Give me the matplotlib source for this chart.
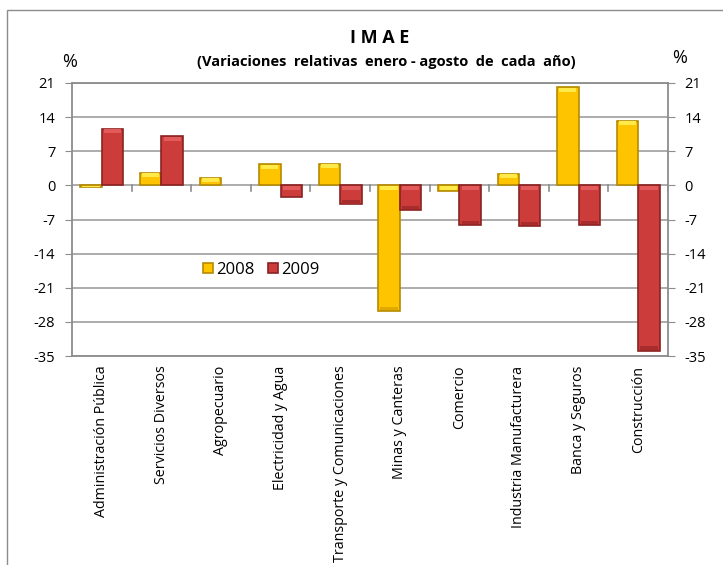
import matplotlib
matplotlib.use("Agg")
import matplotlib.pyplot as plt
import numpy as np
from matplotlib.patches import Rectangle

plt.rcParams['font.family'] = ['Open Sans', 'DejaVu Sans']

categories = ["Administración Pública", "Servicios Diversos", "Agropecuario",
              "Electricidad y Agua", "Transporte y Comunicaciones", "Minas y Canteras",
              "Comercio", "Industria Manufacturera", "Banca y Seguros", "Construcción"]
v2008 = [-0.3, 2.6, 1.6, 4.3, 4.4, -25.8, -1.2, 2.4, 20.1, 13.3]
v2009 = [11.6, 10.1, 0.0, -2.3, -3.9, -5.0, -8.1, -8.3, -8.1, -33.9]
yticks = [21, 14, 7, 0, -7, -14, -21, -28, -35]
series_names = ["2008", "2009"]

fig = plt.figure(figsize=(7.23, 5.65), dpi=100)
# outer chart border (cropped)
fig.patches.append(Rectangle((7/723, -0.1), 1.1, 1 - 9.5/565 + 0.1, transform=fig.transFigure,
                             fill=False, edgecolor='#8c8c8c', linewidth=1.0))

ax = fig.add_axes([72/723, 1 - 356/565, (668 - 72)/723, (356 - 83)/565])
x = np.arange(len(categories))
w = 0.36
c08, e08 = '#FFC400', '#B58A00'
c09, e09 = '#CC3C3A', '#8A2222'
b1 = ax.bar(x - w/2, v2008, w, color=c08, edgecolor=e08, linewidth=1.2, label=series_names[0], zorder=3)
b2 = ax.bar(x + w/2, v2009, w, color=c09, edgecolor=e09, linewidth=1.2, label=series_names[1], zorder=3)
# bevel highlight strips at the top of each bar, darker shade at the bottom
for bars, hl, dk in ((b1, '#FFEA4A', '#E0A800'), (b2, '#E25A5A', '#A82C2C')):
    for r in bars:
        h = r.get_height()
        if h == 0:
            r.set_linewidth(0)
            continue
        top = max(h, 0)
        bot = min(h, 0)
        s = min(abs(h), 1.0)
        xc = r.get_x() + r.get_width()/2
        ax.bar(xc, s*0.8, r.get_width()*0.8, bottom=top - s*0.9, color=hl, linewidth=0, zorder=4)
        if h < -3:
            ax.bar(xc, 0.7, r.get_width()*0.8, bottom=bot + 0.15, color=dk, linewidth=0, zorder=4)

ax.set_ylim(-35, 21)
ax.set_xlim(-0.5, len(categories) - 0.5)
ax.set_yticks(yticks)
ax.set_yticklabels([str(t) for t in yticks], fontsize=10.5)
ax.yaxis.grid(True, color='#a6a6a6', linewidth=1.3, zorder=0)
ax.set_axisbelow(True)
for sp in ax.spines.values():
    sp.set_color('#8c8c8c')
    sp.set_linewidth(1.3)
ax.tick_params(axis='y', length=5, color='#8c8c8c', pad=7)

# category labels at bottom, boundary ticks at the zero line
ax.set_xticks(x)
ax.set_xticklabels(categories, rotation=90, fontsize=10.3, va='top')
ax.tick_params(axis='x', length=0, pad=7)
for b in np.arange(-0.5, len(categories), 1.0)[1:]:
    ax.plot([b, b], [0, -1.1], color='#8c8c8c', linewidth=1.2, zorder=2)

ax2 = ax.twinx()
ax2.set_ylim(-35, 21)
ax2.set_yticks(yticks)
ax2.set_yticklabels([str(t) for t in yticks], fontsize=10.5)
ax2.tick_params(axis='y', length=5, color='#8c8c8c', pad=7)
for sp in ax2.spines.values():
    sp.set_visible(False)

fig.text(380/723, 1 - 38/565, "I M A E", ha='center', va='center', fontsize=13, fontweight='bold')
fig.text(386/723, 1 - 62/565, "(Variaciones  relativas  enero - agosto  de  cada  año)", ha='center',
         va='center', fontsize=10.5, fontweight='bold')
fig.text(70/723, 1 - 62/565, "%", ha='center', va='center', fontsize=13)
fig.text(680/723, 1 - 58/565, "%", ha='center', va='center', fontsize=13)

leg = ax.legend(handles=[b1, b2], loc='center', bbox_to_anchor=(261/723, 1 - 270/565),
                bbox_transform=fig.transFigure, ncol=2, frameon=False, fontsize=12,
                handlelength=0.6, handleheight=0.6, handletextpad=0.2, columnspacing=0.8)

fig.savefig("out.png", dpi=100)
